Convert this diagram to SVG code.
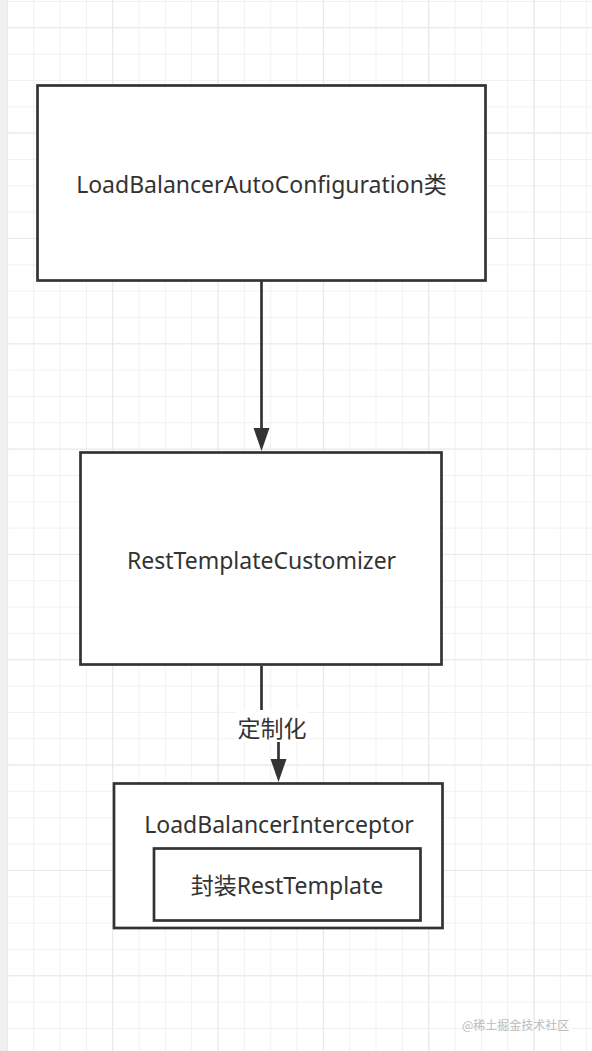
<svg xmlns="http://www.w3.org/2000/svg" width="592" height="1051" viewBox="0 0 592 1051">
<style>
.box{fill:#ffffff;stroke:#333333;stroke-width:2.7}
.lbl{font-family:"Noto Sans","Noto Sans CJK SC",sans-serif;fill:#333333;text-anchor:middle;font-size:23px}
.conn{fill:none;stroke:#333333;stroke-width:2.7}
.wm{font-family:"Noto Sans CJK SC","Noto Sans",sans-serif;fill:#bbbbbb;font-size:12px}
</style>
<defs>
<pattern id="minor" patternUnits="userSpaceOnUse" x="6.9" y="1" width="26.33" height="26.33">
<path d="M0.5 0V26.33M0 0.5H26.33" stroke="#f1f1f1" stroke-width="1" fill="none"/>
</pattern>
<pattern id="major" patternUnits="userSpaceOnUse" x="6.9" y="27.3" width="105.33" height="105.33">
<path d="M0.5 0V105.33M0 0.5H105.33" stroke="#e8e8e8" stroke-width="1.2" fill="none"/>
</pattern>
<marker id="arrow" markerUnits="userSpaceOnUse" markerWidth="24" markerHeight="17" refX="0" refY="8" orient="auto">
<path d="M0 0L23 8L0 16Z" fill="#333333"/>
</marker>
</defs>
<rect x="0" y="0" width="592" height="1051" fill="#ffffff"/>
<rect x="0" y="0" width="592" height="1051" fill="url(#minor)"/>
<rect x="0" y="0" width="592" height="1051" fill="url(#major)"/>
<rect x="0" y="0" width="7" height="1051" fill="#f0f0f0"/>
<g id="connectors">
<path class="conn" d="M261.5 281V428" marker-end="url(#arrow)"/>
<path class="conn" d="M261.5 666V726H278.5V759" marker-end="url(#arrow)"/>
<rect x="236" y="710" width="72" height="32" fill="#ffffff"/>
<text class="lbl" x="272" y="737">定制化</text>
</g>
<g id="node-autoconfig">
<rect class="box" x="37.5" y="85.5" width="448" height="195"/>
<text class="lbl" x="261.5" y="193">LoadBalancerAutoConfiguration类</text>
</g>
<g id="node-customizer">
<rect class="box" x="80.5" y="452.5" width="361" height="212"/>
<text class="lbl" x="261.5" y="569">RestTemplateCustomizer</text>
</g>
<g id="node-interceptor">
<rect class="box" x="114" y="783.5" width="328.5" height="144.5"/>
<text class="lbl" x="279" y="833">LoadBalancerInterceptor</text>
<g id="node-resttemplate">
<rect class="box" x="154" y="848.5" width="266.5" height="72"/>
<text class="lbl" x="287" y="894">封装RestTemplate</text>
</g>
</g>
<text class="wm" x="462" y="1030">@稀土掘金技术社区</text>
</svg>
